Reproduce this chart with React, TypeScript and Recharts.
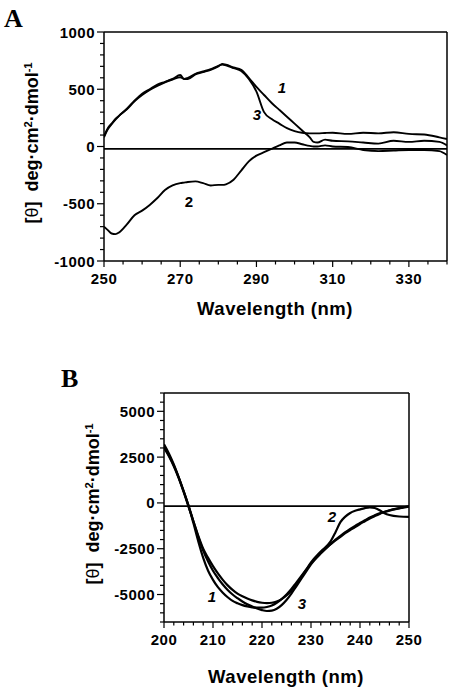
import React from 'react';
import { LineChart, Line, XAxis, YAxis, ReferenceLine } from 'recharts';

// Panel A: near-UV CD spectra
const wavelengthA = [250, 251, 252, 253, 254, 256, 258, 260, 262, 264, 266, 268, 270, 271, 272, 274, 276, 278, 280, 281, 282, 284, 286, 288, 290, 292, 294, 296, 298, 300, 302, 304, 305, 306, 308, 310, 314, 318, 322, 326, 330, 334, 338, 340];
const curveA1 = [90, 160, 200, 240, 270, 330, 400, 460, 500, 540, 565, 590, 625, 590, 590, 630, 650, 670, 700, 720, 715, 690, 670, 600, 520, 450, 380, 320, 260, 200, 140, 80, 40, 35, 60, 50, 45, 35, 25, 50, 40, 50, 40, 10];
const curveA2 = [-700, -730, -760, -765, -750, -680, -600, -560, -510, -450, -380, -340, -320, -315, -310, -305, -320, -340, -335, -335, -330, -290, -210, -130, -80, -50, -20, 10, 35, 35, 20, 5, 0, 0, 10, 0, -5, -30, -40, -35, -30, -30, -40, -75];
const curveA3 = [80, 150, 195, 235, 270, 325, 395, 450, 495, 530, 560, 585, 605, 590, 600, 635, 655, 675, 705, 715, 710, 685, 660, 590, 480, 300, 240, 200, 160, 135, 120, 115, 115, 115, 118, 120, 110, 120, 115, 125, 110, 105, 80, 65];

// Panel B: far-UV CD spectra
const wavelengthB = [200, 201, 202, 203, 204, 205, 206, 207, 208, 209, 210, 211, 212, 213, 214, 215, 216, 217, 218, 219, 220, 221, 222, 223, 224, 225, 226, 227, 228, 229, 230, 232, 234, 235, 236, 237, 238, 239, 240, 241, 242, 243, 244, 245, 246, 248, 250];
const curveB1 = [3200, 2700, 2100, 1400, 650, -150, -1100, -2100, -3000, -3700, -4200, -4600, -4900, -5150, -5350, -5480, -5580, -5650, -5700, -5720, -5720, -5680, -5600, -5450, -5250, -5000, -4700, -4350, -4000, -3650, -3300, -2750, -2250, -2050, -1850, -1650, -1480, -1320, -1150, -1000, -850, -720, -600, -500, -420, -300, -200];
const curveB2 = [3100, 2600, 2050, 1400, 650, -150, -1000, -1800, -2500, -3000, -3450, -3850, -4200, -4500, -4750, -4950, -5100, -5220, -5320, -5400, -5450, -5470, -5450, -5380, -5250, -5050, -4800, -4450, -4050, -3650, -3250, -2650, -2100, -1600, -1050, -750, -550, -430, -350, -280, -240, -280, -400, -560, -660, -740, -760];
const curveB3 = [3000, 2550, 2000, 1350, 600, -200, -1000, -1850, -2600, -3200, -3700, -4100, -4450, -4750, -5000, -5200, -5380, -5530, -5650, -5760, -5850, -5900, -5880, -5780, -5580, -5300, -4950, -4550, -4150, -3750, -3350, -2750, -2250, -2000, -1800, -1600, -1420, -1250, -1100, -950, -800, -680, -570, -480, -400, -280, -180];

const xTicksA = [250, 255, 260, 265, 270, 275, 280, 285, 290, 295, 300, 305, 310, 315, 320, 325, 330, 335, 340];
const yTicksA = [-1000, -900, -800, -700, -600, -500, -400, -300, -200, -100, 0, 100, 200, 300, 400, 500, 600, 700, 800, 900, 1000];
const xTicksB = [200, 202, 204, 206, 208, 210, 212, 214, 216, 218, 220, 222, 224, 226, 228, 230, 232, 234, 236, 238, 240, 242, 244, 246, 248, 250];
const yTicksB = [-6500, -6000, -5500, -5000, -4500, -4000, -3500, -3000, -2500, -2000, -1500, -1000, -500, 0, 500, 1000, 1500, 2000, 2500, 3000, 3500, 4000, 4500, 5000, 5500, 6000];

const dataA = wavelengthA.map((w, i) => ({ w, c1: curveA1[i], c2: curveA2[i], c3: curveA3[i] }));
const dataB = wavelengthB.map((w, i) => ({ w, c1: curveB1[i], c2: curveB2[i], c3: curveB3[i] }));

const sans = 'Arial, "Liberation Sans", Helvetica, sans-serif';
const tickFont = { fontFamily: sans, fontSize: 15, fontWeight: 700, letterSpacing: 0.5, fill: '#000' };

const isMajor = (v: number, base: number, every: number) => Math.abs((v - base) % every) < 1e-6;

const xTick = (base: number, every: number) => (props: any) => {
  const { x, y, payload } = props;
  const major = isMajor(payload.value, base, every);
  return (
    <g>
      <line x1={x} x2={x} y1={y} y2={y + (major ? 6 : 3.5)} stroke="#000" strokeWidth={1.2} />
      {major && (
        <text x={x} y={y + 23} textAnchor="middle" style={tickFont}>{payload.value}</text>
      )}
    </g>
  );
};

const yTick = (every: number) => (props: any) => {
  const { x, y, payload } = props;
  const major = isMajor(payload.value, 0, every);
  return (
    <g>
      <line x1={x} x2={x - (major ? 7 : 4)} y1={y} y2={y} stroke="#000" strokeWidth={1.2} />
      {major && (
        <text x={x - 9} y={y + 5.5} textAnchor="end" style={tickFont}>{payload.value}</text>
      )}
    </g>
  );
};

function YLabel({ cx, cy }: { cx: number; cy: number }) {
  const sup = { fontSize: '0.62em', position: 'relative' as const, top: '-0.55em' };
  return (
    <div
      style={{
        position: 'absolute', left: cx - 120, top: cy - 12, width: 240, height: 24,
        lineHeight: '24px', textAlign: 'center', transform: 'rotate(-90deg)',
        fontFamily: sans, fontWeight: 700, fontSize: 18, whiteSpace: 'nowrap',
      }}
    >
      [<span style={{ fontWeight: 400 }}>θ</span>]&nbsp; deg·cm<span style={sup}>2</span>·dmol<span style={sup}>-1</span>
    </div>
  );
}

function XLabel({ cx, cy }: { cx: number; cy: number }) {
  return (
    <div
      style={{
        position: 'absolute', left: cx - 120, top: cy - 12, width: 240, height: 24,
        lineHeight: '24px', textAlign: 'center', fontFamily: sans, fontWeight: 700,
        fontSize: 18.5, letterSpacing: 0.5,
      }}
    >
      Wavelength (nm)
    </div>
  );
}

function PanelTitle({ x, y, text }: { x: number; y: number; text: string }) {
  return (
    <div style={{ position: 'absolute', left: x, top: y, fontFamily: '"Liberation Serif", "Times New Roman", serif', fontWeight: 700, fontSize: 26, lineHeight: '26px' }}>
      {text}
    </div>
  );
}

function CurveTag({ x, y, text, italic }: { x: number; y: number; text: string; italic?: boolean }) {
  return (
    <div style={{ position: 'absolute', left: x - 10, top: y - 10, width: 20, height: 20, lineHeight: '20px', textAlign: 'center', fontFamily: sans, fontWeight: 700, fontStyle: italic ? 'italic' : 'normal', fontSize: 15 }}>
      {text}
    </div>
  );
}

export default function App() {
  return (
    <div style={{ position: 'absolute', left: 0, top: 0, width: 454, height: 690, background: '#fff' }}>
      <div style={{ position: 'absolute', left: 0, top: 0 }}>
        <LineChart width={454} height={330} data={dataA} margin={{ top: 32, right: 7, bottom: 0, left: 0 }}>
          <XAxis dataKey="w" type="number" domain={[250, 340]} ticks={xTicksA} interval={0} height={69}
            axisLine={{ stroke: '#000', strokeWidth: 1.5 }} tickLine={false} tickSize={0} tickMargin={0} tick={xTick(250, 20)} allowDataOverflow />
          <YAxis type="number" domain={[-1000, 1000]} ticks={yTicksA} interval={0} width={104}
            axisLine={{ stroke: '#000', strokeWidth: 1.5 }} tickLine={false} tickSize={0} tickMargin={0} tick={yTick(500)} allowDataOverflow />
          <ReferenceLine y={1000} stroke="#000" strokeWidth={1.5} />
          <ReferenceLine x={340} stroke="#000" strokeWidth={1.5} />
          <ReferenceLine y={-20} stroke="#000" strokeWidth={1.8} />
          <Line type="monotone" dataKey="c3" stroke="#000" strokeWidth={1.9} dot={false} isAnimationActive={false} />
          <Line type="monotone" dataKey="c2" stroke="#000" strokeWidth={1.9} dot={false} isAnimationActive={false} />
          <Line type="monotone" dataKey="c1" stroke="#000" strokeWidth={1.9} dot={false} isAnimationActive={false} />
        </LineChart>
      </div>
      <PanelTitle x={4} y={6} text="A" />
      <YLabel cx={32} cy={143} />
      <XLabel cx={275} cy={309} />
      <CurveTag x={282} y={88} text="1" italic />
      <CurveTag x={257} y={115} text="3" italic />
      <CurveTag x={189} y={202} text="2" />

      <div style={{ position: 'absolute', left: 0, top: 360 }}>
        <LineChart width={454} height={330} data={dataB} margin={{ top: 33, right: 45, bottom: 0, left: 0 }}>
          <XAxis dataKey="w" type="number" domain={[200, 250]} ticks={xTicksB} interval={0} height={68}
            axisLine={{ stroke: '#000', strokeWidth: 1.5 }} tickLine={false} tickSize={0} tickMargin={0} tick={xTick(200, 10)} allowDataOverflow />
          <YAxis type="number" domain={[-6500, 6000]} ticks={yTicksB} interval={0} width={164}
            axisLine={{ stroke: '#000', strokeWidth: 1.5 }} tickLine={false} tickSize={0} tickMargin={0} tick={yTick(2500)} allowDataOverflow />
          <ReferenceLine y={6000} stroke="#000" strokeWidth={1.5} />
          <ReferenceLine x={250} stroke="#000" strokeWidth={1.5} />
          <ReferenceLine y={-180} stroke="#000" strokeWidth={1.8} />
          <Line type="monotone" dataKey="c3" stroke="#000" strokeWidth={2.2} dot={false} isAnimationActive={false} />
          <Line type="monotone" dataKey="c2" stroke="#000" strokeWidth={2.2} dot={false} isAnimationActive={false} />
          <Line type="monotone" dataKey="c1" stroke="#000" strokeWidth={2.2} dot={false} isAnimationActive={false} />
        </LineChart>
      </div>
      <PanelTitle x={61} y={366} text="B" />
      <YLabel cx={93} cy={504} />
      <XLabel cx={286} cy={677} />
      <CurveTag x={212} y={597} text="1" italic />
      <CurveTag x={302} y={604} text="3" italic />
      <CurveTag x={332} y={517} text="2" italic />
    </div>
  );
}
